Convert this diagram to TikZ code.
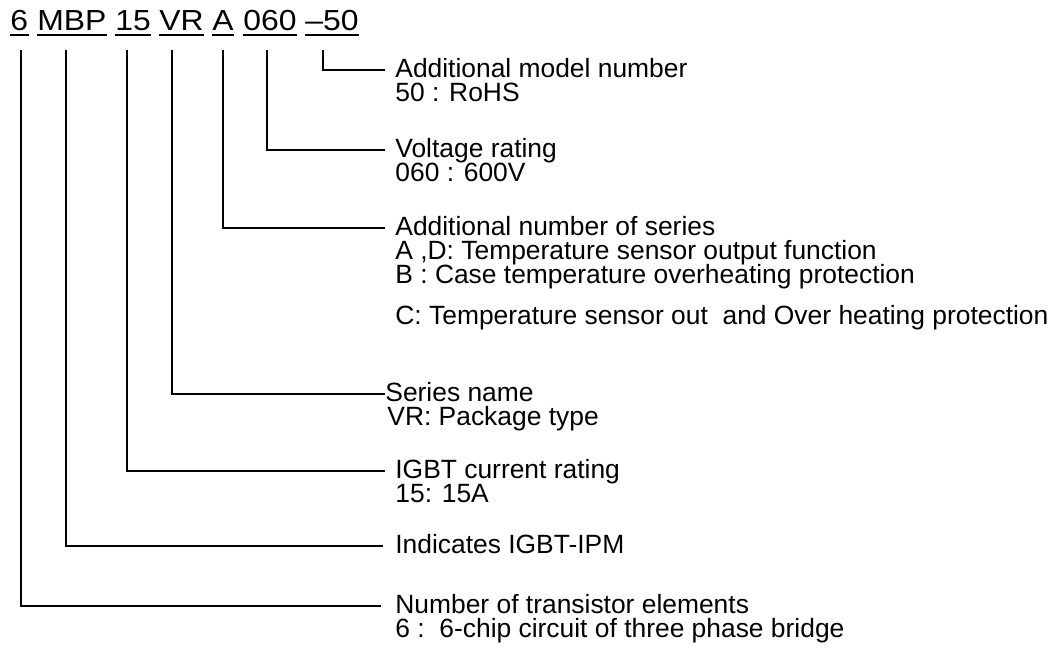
\documentclass[tikz,border=0pt]{standalone}
\usepackage{fontspec}
\setmainfont{Liberation Sans}
\begin{document}
\begin{tikzpicture}[x=0.5pt,y=-0.5pt,
  lab/.style={anchor=west,inner sep=0pt,text height=0.716em,text depth=0pt,font=\fontsize{13.2}{15}\selectfont},
  part/.style={anchor=base west,inner sep=0pt,font=\fontsize{14.5}{16}\selectfont},
  uline/.style={line width=1pt},
  lead/.style={line width=0.8pt}]
\useasboundingbox (0,0) rectangle (1060,648);
% title parts
\node[part] (t6)  at (10,31)  {\scalebox{1.1}[1]{6}};
\node[part] (tM)  at (37,31)  {\scalebox{1.1}[1]{MBP}};
\node[part] (t15) at (115,31) {\scalebox{1.1}[1]{15}};
\node[part] (tVR) at (159,31) {\scalebox{1.1}[1]{VR}};
\node[part] (tA)  at (212,31) {\scalebox{1.1}[1]{A}};
\node[part] (t060) at (243,31) {\scalebox{1.1}[1]{060}};
\node[part] (t50) at (305,31) {\scalebox{1.1}[1]{–50}};
\foreach \t in {t6,tM,t15,tVR,tA,t060,t50}
  \draw[uline] ([yshift=-2pt]\t.base west) -- ([yshift=-2pt]\t.base east);
% start points of leaders
\coordinate (c6)   at (21,50);
\coordinate (cM)   at (66,50);
\coordinate (c15)  at (127,50);
\coordinate (cVR)  at (172,50);
\coordinate (cA)   at (223,50);
\coordinate (c060) at (267,50);
\coordinate (c50)  at (323,50);
% labels
\node[lab] (l50)  at (395,70)  {Additional model number};
\node[lab] (l50b) at (395,94)  {50 : RoHS};
\node[lab] (l060) at (395,150) {Voltage rating};
\node[lab] (l060b) at (395,174) {060 : 600V};
\node[lab] (lA)   at (395,228) {Additional number of series};
\node[lab] (lAb)  at (395,252) {A ,D: Temperature sensor output function};
\node[lab] (lAc)  at (395,276) {B : Case temperature overheating protection};
\node[lab] (lAd)  at (395,317) {C: Temperature sensor out\ \ and Over heating protection};
\node[lab] (lVR)  at (385,394) {Series name};
\node[lab] (lVRb) at (387,418) {VR: Package type};
\node[lab] (l15)  at (395,471) {IGBT current rating};
\node[lab] (l15b) at (395,495) {15: 15A};
\node[lab] (lM)   at (395,546) {Indicates IGBT-IPM};
\node[lab] (l6)   at (395,606) {Number of transistor elements};
\node[lab] (l6b)  at (395,630) {6 :\ \ 6-chip circuit of three phase bridge};
% leaders
\draw[lead] (c50)  |- ([xshift=-5pt]l50.west);
\draw[lead] (c060) |- ([xshift=-5pt]l060.west);
\draw[lead] (cA)   |- ([xshift=-5pt]lA.west);
\draw[lead] (cVR)  |- (lVR.west);
\draw[lead] (c15)  |- ([xshift=-5pt]l15.west);
\draw[lead] (cM)   |- ([xshift=-6pt]lM.west);
\draw[lead] (c6)   |- ([xshift=-7pt]l6.west);
\end{tikzpicture}
\end{document}
